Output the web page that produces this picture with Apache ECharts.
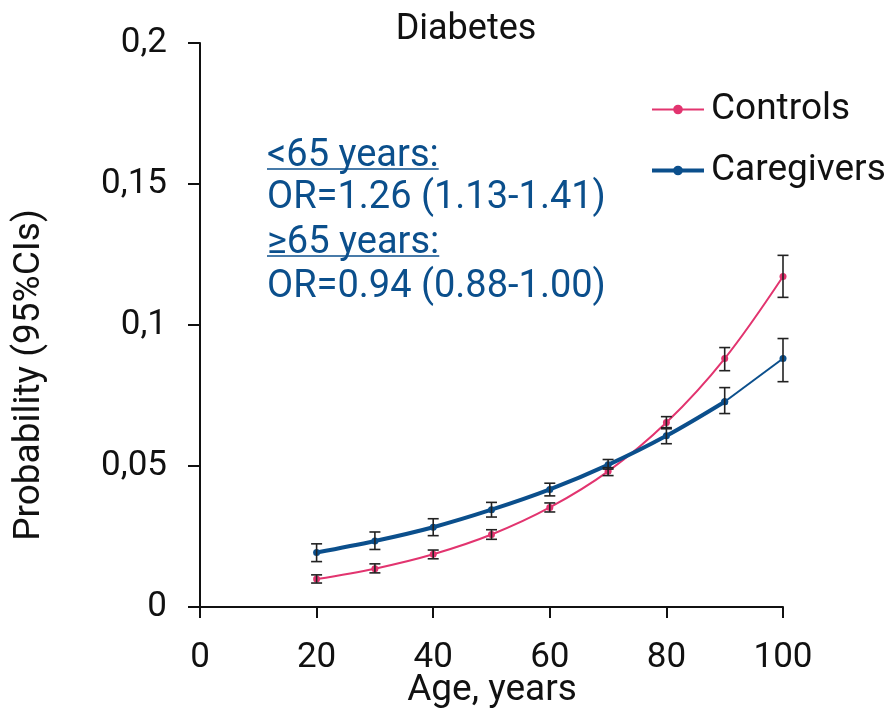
<!DOCTYPE html>
<html>
<head>
<meta charset="utf-8">
<title>Diabetes</title>
<script src="https://cdn.jsdelivr.net/npm/echarts@6/dist/echarts.min.js"></script>
<style>
  html, body { margin: 0; padding: 0; background: #fff; }
  #chart { width: 892px; height: 711px; }
</style>
</head>
<body>
<div id="chart"></div>
<script>
const ages = [20, 30, 40, 50, 60, 70, 80, 90, 100];

const controls = [0.0099, 0.0136, 0.0187, 0.0257, 0.0353, 0.0481, 0.0654, 0.0881, 0.1172];
const controlsLow = [0.0085, 0.0121, 0.0171, 0.0240, 0.0337, 0.0466, 0.0636, 0.0838, 0.1098];
const controlsHigh = [0.0114, 0.0153, 0.0202, 0.0274, 0.0369, 0.0494, 0.0675, 0.0920, 0.1247];

const caregivers = [0.0193, 0.0234, 0.0283, 0.0345, 0.0417, 0.0504, 0.0607, 0.0728, 0.0881];
const caregiversLow = [0.0161, 0.0204, 0.0253, 0.0319, 0.0394, 0.0489, 0.0579, 0.0686, 0.0799];
const caregiversHigh = [0.0224, 0.0266, 0.0313, 0.0371, 0.0439, 0.0523, 0.0632, 0.0778, 0.0952];

const notes = ["<65 years:", "OR=1.26 (1.13-1.41)", "≥65 years:", "OR=0.94 (0.88-1.00)"];
const underlined = [true, false, true, false];

const PINK = "#e2346f";
const BLUE = "#0b4f8c";
const FONT = "Roboto";

const chart = echarts.init(document.getElementById("chart"));

function textWidth(text, size) {
  const ctx = document.createElement("canvas").getContext("2d");
  ctx.font = size + "px " + FONT;
  return ctx.measureText(text).width;
}

function errorBars(values, low, high) {
  return ages.map((age, i) => [age, low[i], high[i], values[i]]);
}

function renderErrorBar(params, api) {
  const top = api.coord([api.value(0), api.value(2)]);
  const bottom = api.coord([api.value(0), api.value(1)]);
  const cap = 5.5;
  const style = { stroke: "#222", lineWidth: 1.6 };
  return {
    type: "group",
    children: [
      { type: "line", shape: { x1: top[0], y1: top[1], x2: bottom[0], y2: bottom[1] }, style },
      { type: "line", shape: { x1: top[0] - cap, y1: top[1], x2: top[0] + cap, y2: top[1] }, style },
      { type: "line", shape: { x1: bottom[0] - cap, y1: bottom[1], x2: bottom[0] + cap, y2: bottom[1] }, style }
    ]
  };
}

// annotation block, with hand drawn underlines
const noteSize = 38;
const noteY = [156, 198, 243, 287];
const noteElements = [];
notes.forEach((line, i) => {
  noteElements.push({
    type: "text",
    x: 267,
    y: noteY[i],
    style: {
      text: line,
      fill: BLUE,
      font: noteSize + "px " + FONT,
      align: "left",
      verticalAlign: "middle"
    }
  });
  if (underlined[i]) {
    noteElements.push({
      type: "line",
      shape: { x1: 267, y1: noteY[i] + 13, x2: 267 + textWidth(line, noteSize), y2: noteY[i] + 13 },
      style: { stroke: BLUE, lineWidth: 1.5 }
    });
  }
});

const axisText = { color: "#111", fontFamily: FONT, fontSize: 35 };

chart.setOption({
  animation: false,
  textStyle: { fontFamily: FONT },
  grid: { left: 200, right: 109, top: 43, bottom: 104, containLabel: false },
  legend: {
    data: [
      { name: "Controls" },
      { name: "Caregivers", lineStyle: { width: 4 } }
    ],
    orient: "vertical",
    left: 645,
    top: 86,
    itemWidth: 52,
    itemHeight: 12,
    itemGap: 24,
    textStyle: { color: "#111", fontFamily: FONT, fontSize: 37, lineHeight: 37, padding: [0, 0, 0, 2] }
  },
  xAxis: {
    type: "value",
    min: 0,
    max: 100,
    interval: 20,
    axisLine: { lineStyle: { color: "#111", width: 2 } },
    axisTick: { show: true, inside: false, length: 11, lineStyle: { color: "#111", width: 2 } },
    axisLabel: Object.assign({ margin: 34 }, axisText),
    splitLine: { show: false }
  },
  yAxis: {
    type: "value",
    min: 0,
    max: 0.2,
    interval: 0.05,
    axisLine: { show: true, lineStyle: { color: "#111", width: 2 } },
    axisTick: { show: true, inside: false, length: 12, lineStyle: { color: "#111", width: 2 } },
    axisLabel: Object.assign({
      margin: 33,
      formatter: (v) => String(+v.toFixed(2)).replace(".", ",")
    }, axisText),
    splitLine: { show: false }
  },
  graphic: [
    {
      type: "text",
      x: 466,
      y: 30,
      style: { text: "Diabetes", fill: "#111", font: "36px " + FONT, align: "center", verticalAlign: "middle" }
    },
    {
      type: "text",
      x: 492,
      y: 691,
      style: { text: "Age, years", fill: "#111", font: "37px " + FONT, align: "center", verticalAlign: "middle" }
    },
    {
      type: "text",
      x: 30,
      y: 375,
      rotation: Math.PI / 2,
      style: { text: "Probability (95%CIs)", fill: "#111", font: "37px " + FONT, align: "center", verticalAlign: "middle" }
    },
    { type: "group", children: noteElements }
  ],
  series: [
    {
      name: "Controls",
      type: "line",
      smooth: 0.35,
      data: ages.map((age, i) => [age, controls[i]]),
      symbol: "circle",
      symbolSize: 7,
      lineStyle: { color: PINK, width: 2 },
      itemStyle: { color: PINK },
      z: 3
    },
    {
      name: "Caregivers",
      type: "line",
      smooth: 0.35,
      data: ages.slice(0, 8).map((age, i) => [age, caregivers[i]]),
      symbol: "circle",
      symbolSize: 7,
      lineStyle: { color: BLUE, width: 4 },
      itemStyle: { color: BLUE },
      z: 4
    },
    {
      name: "Caregivers (90+)",
      type: "line",
      data: ages.slice(7).map((age, i) => [age, caregivers[i + 7]]),
      symbol: "circle",
      symbolSize: 7,
      lineStyle: { color: BLUE, width: 2 },
      itemStyle: { color: BLUE },
      z: 4
    },
    {
      name: "Controls CI",
      type: "custom",
      renderItem: renderErrorBar,
      data: errorBars(controls, controlsLow, controlsHigh),
      z: 5
    },
    {
      name: "Caregivers CI",
      type: "custom",
      renderItem: renderErrorBar,
      data: errorBars(caregivers, caregiversLow, caregiversHigh),
      z: 5
    }
  ]
});
</script>
</body>
</html>
